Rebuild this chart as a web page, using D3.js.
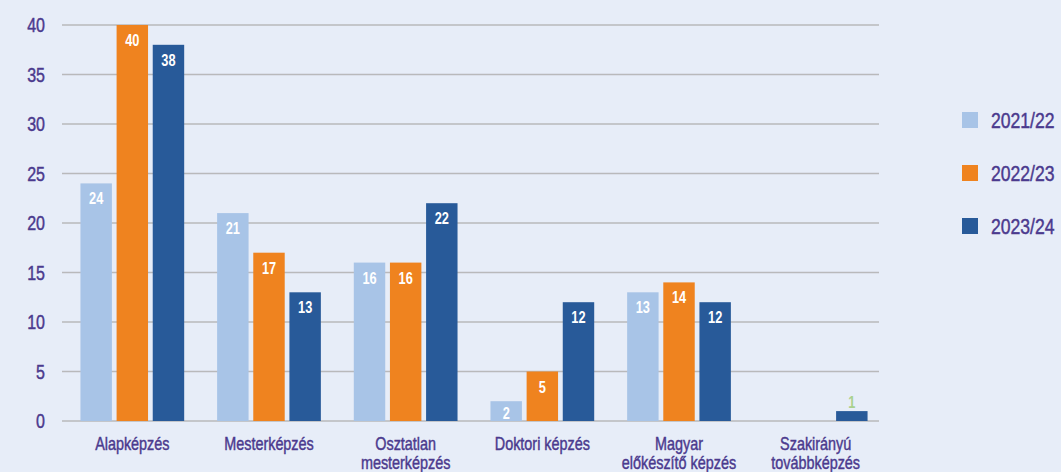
<!DOCTYPE html>
<html>
<head>
<meta charset="utf-8">
<script src="https://cdn.jsdelivr.net/npm/d3@7"></script>
<style>
  html, body { margin: 0; padding: 0; background: #e7edf8; }
  svg { display: block; }
  text { font-family: "Liberation Sans", Arial, sans-serif; }
  .pt { stroke: #4b3a8e; stroke-width: 0.45px; }
</style>
</head>
<body>
<svg id="chart" width="1061" height="472"></svg>
<script>
const categories = [
  ["Alapképzés"],
  ["Mesterképzés"],
  ["Osztatlan", "mesterképzés"],
  ["Doktori képzés"],
  ["Magyar", "előkészítő képzés"],
  ["Szakirányú", "továbbképzés"]
];
const seriesNames = ["2021/22", "2022/23", "2023/24"];
const values2021 = [24, 21, 16, 2, 13, null];
const values2022 = [40, 17, 16, 5, 14, null];
const values2023 = [38, 13, 22, 12, 12, 1];
const yTicks = [0, 5, 10, 15, 20, 25, 30, 35, 40];
const colors = ["#a8c4e7", "#ef831f", "#285a99"];

const seriesValues = [values2021, values2022, values2023];
const catKeys = categories.map(c => c.join(" "));

const svg = d3.select("#chart");
const purple = "#4b3a8e";
const SX = 0.8; // horizontal condensing to mimic a narrow font

const y = d3.scaleLinear().domain([0, 40]).range([421, 25]);
const x = d3.scaleBand().domain(catKeys).range([62, 886]).paddingInner(0.241).paddingOuter(0.135);
const xi = d3.scaleBand().domain(seriesNames).range([0, x.bandwidth()]).paddingInner(0.13);

const tr = (px, py) => `translate(${px},${py}) scale(${SX},1)`;

// gridlines
svg.append("g").selectAll("line").data(yTicks).join("line")
  .attr("x1", 62).attr("x2", 879)
  .attr("y1", d => y(d)).attr("y2", d => y(d))
  .attr("stroke", "#b9b9bb").attr("stroke-width", 1.5);

// y tick labels
svg.append("g").selectAll("text").data(yTicks).join("text")
  .attr("class", "pt")
  .attr("transform", d => tr(45, y(d)))
  .attr("dy", "0.36em")
  .attr("text-anchor", "end")
  .attr("font-size", 20).attr("fill", purple)
  .text(d => d);

// bars
const data = [];
catKeys.forEach((c, i) => {
  seriesNames.forEach((s, j) => {
    const v = seriesValues[j][i];
    if (v !== null) data.push({ c, s, j, v });
  });
});

svg.append("g").selectAll("rect").data(data).join("rect")
  .attr("x", d => x(d.c) + xi(d.s))
  .attr("width", xi.bandwidth())
  .attr("y", d => y(d.v))
  .attr("height", d => y(0) - y(d.v))
  .attr("fill", d => colors[d.j]);

// value labels
const inside = d => (y(0) - y(d.v) > 16);
svg.append("g").selectAll("text").data(data).join("text")
  .attr("transform", d => tr(x(d.c) + xi(d.s) + xi.bandwidth() / 2,
    inside(d) ? Math.min(y(d.v) + 21, y(0) - 2) : y(d.v) - 3))
  .attr("text-anchor", "middle")
  .attr("font-size", 16).attr("font-weight", "bold")
  .attr("fill", d => inside(d) ? "#ffffff" : "#a9d18e")
  .text(d => d.v);

// category labels
const cl = svg.append("g").selectAll("text").data(categories).join("text")
  .attr("class", "pt")
  .attr("transform", (d, i) => tr(x(catKeys[i]) + x.bandwidth() / 2, 450))
  .attr("text-anchor", "middle")
  .attr("font-size", 18).attr("fill", purple);
cl.selectAll("tspan").data(d => d).join("tspan")
  .attr("x", 0)
  .attr("dy", (d, k) => k === 0 ? 0 : 19)
  .text(d => d);

// legend
const lg = svg.append("g").selectAll("g").data(seriesNames).join("g")
  .attr("transform", (d, i) => `translate(962, ${120 + i * 53})`);
lg.append("rect").attr("x", 0).attr("y", -8).attr("width", 16).attr("height", 16)
  .attr("fill", (d, i) => colors[i]);
lg.append("text").attr("class", "pt").attr("transform", tr(29, 0)).attr("dy", "0.36em")
  .attr("font-size", 22).attr("fill", purple).text(d => d);
</script>
</body>
</html>
